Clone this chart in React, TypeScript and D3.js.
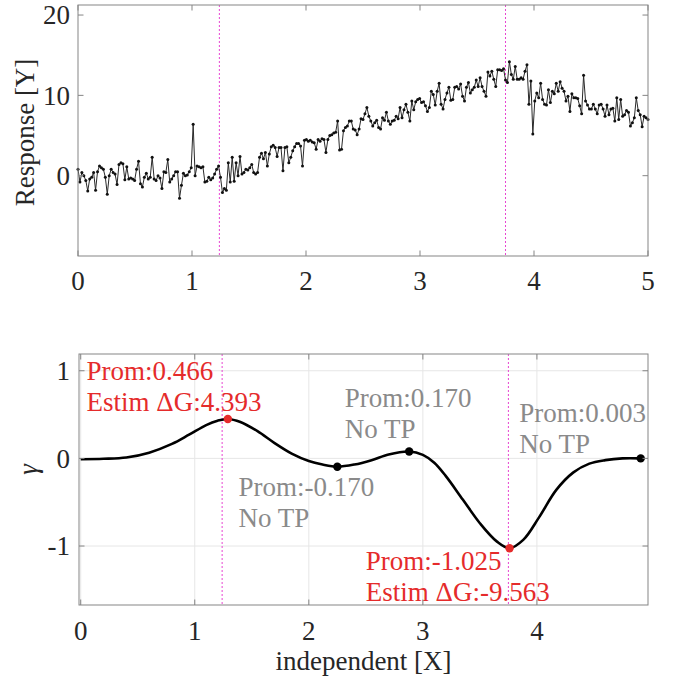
import React from 'react';
import * as d3 from 'd3';

// ---------- Top panel: noisy response ----------
const TOP_Y = [
  0.8,-0.8,0.4,0,-0.6,-1.9,-0.4,-0.2,0.4,-1.8,0.5,1.2,1.0,0.8,-0.2,-2.3,0,0.8,0.4,0.2,
  -1.1,1.4,1.6,1.5,-0.5,1.1,-0.4,-0.3,-0.4,-0.6,0.8,1.8,-1.0,-1.4,-0.2,0.3,-0.4,-0.2,2.3,-0.4,
  -0.6,0,-0.3,-1.6,0.5,0.4,2.0,-0.8,-0.4,0,0.5,0.5,-2.8,-1.2,0.3,0,0.1,0.5,1.0,6.4,
  0,1.2,1.1,1.0,1.1,-0.8,-0.7,-0.2,-0.5,-0.3,0.2,0.8,1.2,-0.2,-2.1,-1.6,-1.8,1.6,-0.8,2.3,
  -0.7,1.6,0,2.4,0.2,0.4,0.8,0.7,1.0,1.4,0.4,0.2,0.4,2.3,2.8,2.1,2.9,1.2,2.7,3.6,
  3.8,3.5,2.4,3.5,3.5,0.6,3.5,3.6,1.6,2.3,3.1,3.6,4.0,4.0,3.7,1.2,4.4,4.5,4.3,4.4,
  4.2,4.1,3.3,4.5,4.3,4.6,4.5,2.9,4.5,5.0,5.1,5.3,5.4,6.8,3.2,3.3,5.6,6.0,6.2,6.8,
  6.8,5.8,5.7,5.1,5.8,7.1,7.0,7.7,8.5,7.4,6.8,6.2,6.6,6.9,6.0,5.8,7.2,6.9,7.9,6.8,
  6.4,6.8,6.9,7.4,7.1,8.5,7.2,8.2,8.9,7.9,6.8,9.3,8.2,9.2,9.5,9.6,9.1,9.2,
  8.7,8.0,8.5,10.5,10.1,8.8,10.5,11.5,8.9,8.3,9.5,10.3,11.0,9.4,9.5,11.0,11.1,10.8,11.4,9.9,
  9.3,11.0,11.6,10.3,10.7,11.0,11.9,11.1,12.2,11.1,10.5,9.9,12.9,12.4,13.0,12.0,11.1,13.2,13.2,13.1,
  13.3,11.9,11.6,14.2,12.6,12.0,13.6,12.0,12.0,12.2,12.0,13.0,13.8,
  8.9,11.8,5.2,9.3,10.3,9.7,11.5,9.5,8.9,8.8,10.7,9.1,10.5,10.2,11.5,10.5,11.7,10.9,10.5,9.3,
  9.9,8.0,10.2,9.7,9.7,9.6,8.7,7.7,12.5,9.3,8.8,8.3,8.3,8.9,8.3,7.7,8.8,8.9,8.3,7.4,
  8.8,7.6,8.3,8.4,6.8,9.7,7.0,9.5,7.4,7.6,8.1,7.9,6.2,6.6,7.2,9.7,8.1,7.6,6.1,7.4,
  7.2,7.0
];
const TOP_X_MAX = 5;
const TOP_X_TICKS = [0, 1, 2, 3, 4, 5];
const TOP_Y_TICKS = [0, 10, 20];
const TOP_Y_DOMAIN = [-10, 21.25];

// ---------- Bottom panel: gamma ----------
const GAMMA_X = [0, 0.2, 0.4, 0.6, 0.8, 0.95, 1.1, 1.2, 1.29, 1.4, 1.55, 1.7, 1.85, 2.0, 2.12, 2.25, 2.4, 2.55, 2.7, 2.88, 3.0, 3.1, 3.2, 3.35, 3.5, 3.65, 3.76, 3.88, 4.02, 4.17, 4.32, 4.46, 4.6, 4.75, 4.91];
const GAMMA_Y = [-0.01, -0.005, 0.01, 0.065, 0.165, 0.27, 0.38, 0.43, 0.45, 0.415, 0.31, 0.175, 0.055, -0.03, -0.07, -0.095, -0.07, -0.02, 0.045, 0.078, 0.04, -0.05, -0.2, -0.47, -0.74, -0.95, -1.025, -0.93, -0.67, -0.36, -0.16, -0.06, -0.02, 0.0, 0.0];
const BOT_X_TICKS = [0, 1, 2, 3, 4];
const BOT_Y_TICKS = [-1, 0, 1];
const BOT_X_DOMAIN = [-0.015, 4.974];
const BOT_Y_DOMAIN = [-1.673, 1.191];

const TP_LINES = [1.24, 3.75];

const EXTREMA_X = [1.29, 2.25, 2.88, 3.76, 4.91];
const EXTREMA_Y = [0.45, -0.095, 0.078, -1.025, 0.0];
const EXTREMA_TP = [true, false, false, true, false];
const ANNOT_LINES = [
  ['Prom:0.466', 'Estim \u0394G:4.393'],
  ['Prom:-0.170', 'No TP'],
  ['Prom:0.170', 'No TP'],
  ['Prom:-1.025', 'Estim \u0394G:-9.563'],
  ['Prom:0.003', 'No TP'],
];
const ANNOT_X = [0.051, 1.383, 2.316, 2.5, 3.846];
const ANNOT_Y = [0.893, -0.43, 0.585, -1.274, 0.414];

const FONT = '"Liberation Serif", "Times New Roman", serif';
const FS = 27;
const RED = '#e52b2b';
const GRAY_TXT = '#8a8a8a';
const AXIS = '#858585';
const LABEL = '#262626';
const MAGENTA = '#e845d2';
const TICK = 5.5;

export default function App() {
  // top panel
  const tL = 78, tR = 648, tT = 5, tB = 256;
  const xT = d3.scaleLinear().domain([0, TOP_X_MAX]).range([tL, tR]);
  const yT = d3.scaleLinear().domain(TOP_Y_DOMAIN).range([tB, tT]);
  const n = TOP_Y.length;
  const topPts = TOP_Y.map((v, i) => [(i * TOP_X_MAX) / (n - 1), v] as [number, number]);
  const topLine = d3.line<[number, number]>().x(d => xT(d[0])).y(d => yT(d[1]))(topPts) || '';

  // bottom panel
  const bL = 79, bR = 648, bT = 354, bB = 605;
  const xB = d3.scaleLinear().domain(BOT_X_DOMAIN).range([bL, bR]);
  const yB = d3.scaleLinear().domain(BOT_Y_DOMAIN).range([bB, bT]);
  const gPts = GAMMA_X.map((x, i) => [x, GAMMA_Y[i]] as [number, number]);
  const gLine = d3.line<[number, number]>().x(d => xB(d[0])).y(d => yB(d[1])).curve(d3.curveCatmullRom.alpha(0.5))(gPts) || '';

  return (
    <svg width={674} height={680} style={{ position: 'absolute', left: 0, top: 0, background: '#fff' }} fontFamily={FONT}>
      <rect x={0} y={0} width={674} height={680} fill="#fff" />
      {/* ===== Top panel ===== */}
      <rect x={tL} y={tT} width={tR - tL} height={tB - tT} fill="#fff" />
      {TP_LINES.map((v, i) => (
        <line key={'tp' + i} x1={xT(v)} x2={xT(v)} y1={tT} y2={tB} stroke={MAGENTA} strokeWidth={1} strokeDasharray="2,2" />
      ))}
      <path d={topLine} fill="none" stroke="#2a2a2a" strokeWidth={1} />
      {topPts.map((p, i) => (
        <circle key={'tm' + i} cx={xT(p[0])} cy={yT(p[1])} r={1.5} fill="#111" />
      ))}
      <rect x={tL} y={tT} width={tR - tL} height={tB - tT} fill="none" stroke={AXIS} strokeWidth={1} />
      {TOP_X_TICKS.map(v => (
        <g key={'tx' + v}>
          <line x1={xT(v)} x2={xT(v)} y1={tB} y2={tB - TICK} stroke={AXIS} />
          <line x1={xT(v)} x2={xT(v)} y1={tT} y2={tT + TICK} stroke={AXIS} />
          <text x={xT(v)} y={tB + 34} textAnchor="middle" fontSize={FS} fill={LABEL}>{v}</text>
        </g>
      ))}
      {TOP_Y_TICKS.map(v => (
        <g key={'ty' + v}>
          <line x1={tL} x2={tL + TICK} y1={yT(v)} y2={yT(v)} stroke={AXIS} />
          <line x1={tR} x2={tR - TICK} y1={yT(v)} y2={yT(v)} stroke={AXIS} />
          <text x={tL - 8} y={yT(v)} dy="0.35em" textAnchor="end" fontSize={FS} fill={LABEL}>{v}</text>
        </g>
      ))}
      <text transform={`translate(34, ${(tT + tB) / 2 + 2}) rotate(-90)`} textAnchor="middle" fontSize={FS} fill={LABEL}>Response [Y]</text>

      {/* ===== Bottom panel ===== */}
      {BOT_X_TICKS.map(v => (
        <line key={'gx' + v} x1={xB(v)} x2={xB(v)} y1={bT} y2={bB} stroke="#e6e6e6" strokeWidth={1} />
      ))}
      {BOT_Y_TICKS.map(v => (
        <line key={'gy' + v} x1={bL} x2={bR} y1={yB(v)} y2={yB(v)} stroke="#e6e6e6" strokeWidth={1} />
      ))}
      {TP_LINES.map((v, i) => (
        <line key={'bp' + i} x1={xB(v)} x2={xB(v)} y1={bT} y2={bB} stroke={MAGENTA} strokeWidth={1} strokeDasharray="2,2" />
      ))}
      <path d={gLine} fill="none" stroke="#000" strokeWidth={2.6} />
      {EXTREMA_X.map((x, i) => (
        <circle key={'ex' + i} cx={xB(x)} cy={yB(EXTREMA_Y[i])} r={4.2} fill={EXTREMA_TP[i] ? RED : '#000'} />
      ))}
      {ANNOT_LINES.map((lines, i) => (
        <text key={'an' + i} x={xB(ANNOT_X[i])} y={yB(ANNOT_Y[i])} fontSize={FS} fill={EXTREMA_TP[i] ? RED : GRAY_TXT}>
          {lines.map((t, j) => (
            <tspan key={j} x={xB(ANNOT_X[i])} dy={j === 0 ? 0 : 30.5}>{t}</tspan>
          ))}
        </text>
      ))}
      <rect x={bL} y={bT} width={bR - bL} height={bB - bT} fill="none" stroke={AXIS} strokeWidth={1} />
      {BOT_X_TICKS.map(v => (
        <g key={'bx' + v}>
          <line x1={xB(v)} x2={xB(v)} y1={bB} y2={bB - TICK} stroke={AXIS} />
          <line x1={xB(v)} x2={xB(v)} y1={bT} y2={bT + TICK} stroke={AXIS} />
          <text x={xB(v)} y={bB + 35} textAnchor="middle" fontSize={FS} fill={LABEL}>{v}</text>
        </g>
      ))}
      {BOT_Y_TICKS.map(v => (
        <g key={'by' + v}>
          <line x1={bL} x2={bL + TICK} y1={yB(v)} y2={yB(v)} stroke={AXIS} />
          <line x1={bR} x2={bR - TICK} y1={yB(v)} y2={yB(v)} stroke={AXIS} />
          <text x={bL - 9} y={yB(v)} dy="0.35em" textAnchor="end" fontSize={FS} fill={LABEL}>{v}</text>
        </g>
      ))}
      <text transform={`translate(37, ${(bT + bB) / 2 - 10}) rotate(-90)`} textAnchor="middle" fontSize={FS} fill={LABEL} fontStyle="italic">{'\u03B3'}</text>
      <text x={(bL + bR) / 2} y={670} textAnchor="middle" fontSize={FS} fill={LABEL}>independent [X]</text>
    </svg>
  );
}
